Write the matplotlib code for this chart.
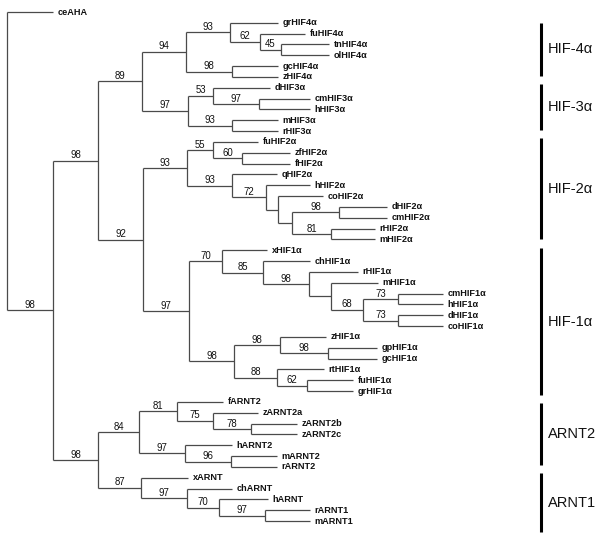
import matplotlib
matplotlib.use("Agg")
import matplotlib.pyplot as plt

# ---------------- data ----------------
# leaves in top-to-bottom order, with their parent clade and tip depth (tree distance units)
leaf_names = ["ceAHA",
              "grHIF4α", "fuHIF4α", "tnHIF4α", "olHIF4α", "gcHIF4α", "zHIF4α",
              "dHIF3α", "cmHIF3α", "hHIF3α", "mHIF3α", "rHIF3α",
              "fuHIF2α", "zfHIF2α", "fHIF2α", "qHIF2α", "hHIF2α", "coHIF2α",
              "dHIF2α", "cmHIF2α", "rHIF2α", "mHIF2α",
              "xHIF1α", "chHIF1α", "rHIF1α", "mHIF1α", "cmHIF1α", "hHIF1α",
              "dHIF1α", "coHIF1α", "zHIF1α", "gpHIF1α", "gcHIF1α", "rtHIF1α",
              "fuHIF1α", "grHIF1α",
              "fARNT2", "zARNT2a", "zARNT2b", "zARNT2c", "hARNT2", "mARNT2", "rARNT2",
              "xARNT", "chARNT", "hARNT", "rARNT1", "mARNT1"]
leaf_parent = ["root",
               "n93a", "n62a", "n45", "n45", "n98a", "n98a",
               "n53", "n97c", "n97c", "n93c", "n93c",
               "n55", "n60", "n60", "n93e", "n72", "nB",
               "n98b", "n98b", "n81b", "n81b",
               "n70", "n85", "n98c", "nD", "n73a", "n73a",
               "n73b", "n73b", "n98e", "n98f", "n98f", "n88",
               "n62b", "n62b",
               "n81c", "n75", "n78", "n78", "n97f", "n96", "n96",
               "n87", "n97g", "n70b", "n97h", "n97h"]
leaf_depth = [53,
              278, 305, 329, 329, 278, 278,
              270, 310, 310, 278, 278,
              258, 290, 290, 277, 310, 323,
              387, 387, 375, 375,
              267, 310, 358, 378, 443, 443,
              443, 443, 326, 377, 377, 324,
              353, 353,
              223, 258, 297, 297, 232, 277, 277,
              188, 232, 268, 310, 310]

# internal clades: id, parent, depth, bootstrap support (None = not shown)
node_ids = ["root", "nA", "nHIF", "n89", "n94", "n93a", "n62a", "n45", "n98a",
            "n97b", "n53", "n97c", "n93c",
            "n92", "n93d", "n55", "n60", "n93e", "n72", "nB", "nC", "n98b", "n81b",
            "n97d", "n70", "n85", "n98c", "nD", "n68", "n73a", "n73b",
            "n98d", "n98e", "n98f", "n88", "n62b",
            "nARNT", "n84", "n81c", "n75", "n78", "n97f", "n96",
            "n87", "n97g", "n70b", "n97h"]
node_parent = [None, "root", "nA", "nHIF", "n89", "n94", "n93a", "n62a", "n94",
               "n89", "n97b", "n53", "n97b",
               "nHIF", "n92", "n93d", "n55", "n93d", "n93e", "n72", "nB", "nC", "nC",
               "n92", "n97d", "n70", "n85", "n98c", "nD", "n68", "n68",
               "n97d", "n98d", "n98e", "n98d", "n88",
               "nA", "nARNT", "n84", "n81c", "n75", "n84", "n97f",
               "nARNT", "n87", "n97g", "n70b"]
node_depth = [7, 53, 98, 142, 186, 230, 260, 281, 232,
              188, 213, 259, 232,
              143, 187, 213, 242, 232, 266, 278, 292, 339, 331,
              189, 222, 263, 309, 331, 363, 398, 398,
              234, 280, 328, 277, 307,
              98, 139, 177, 213, 251, 185, 231,
              141, 187, 219, 265]
node_support = [None, 98, 98, 89, 94, 93, 62, 45, 98,
                97, 53, 97, 93,
                92, 93, 55, 60, 93, 72, None, None, 98, 81,
                97, 70, 85, 98, None, 68, 73, 73,
                98, 98, 98, 88, 62,
                98, 84, 81, 75, 78, 97, 96,
                87, 97, 70, 97]

# clade brackets on the right (span in leaf rows)
clade_names = ["HIF-4α", "HIF-3α", "HIF-2α", "HIF-1α", "ARNT2", "ARNT1"]
clade_start = [1.02, 6.65, 11.63, 21.79, 36.1, 42.57]
clade_end = [5.9, 10.9, 20.96, 35.36, 41.83, 48.0]

# ---------------- layout ----------------
line_col = "#4a4a4a"
fig = plt.figure(figsize=(6.0, 5.33), dpi=100)
ax = fig.add_axes([0, 0, 1, 1])
ax.set_xlim(0, 600)
ax.set_ylim(48.1, -1.108)
ax.axis("off")

depth = dict(zip(node_ids, node_depth))
parent = dict(zip(node_ids, node_parent))
support = dict(zip(node_ids, node_support))

ypos = {}
children = {n: [] for n in node_ids}
for i, (nm, p) in enumerate(zip(leaf_names, leaf_parent)):
    ypos[("leaf", i)] = float(i)
    children[p].append(("leaf", i))
for n, p in zip(node_ids, node_parent):
    if p is not None:
        children[p].append(("node", n))


def get_y(key):
    if key in ypos:
        return ypos[key]
    kind, n = key
    ys = [get_y(c) for c in children[n]]
    y = (min(ys) + max(ys)) / 2.0
    ypos[key] = y
    return y


for n in node_ids:
    get_y(("node", n))

# vertical connectors
for n in node_ids:
    ys = [get_y(c) for c in children[n]]
    ax.plot([depth[n], depth[n]], [min(ys), max(ys)], color=line_col, lw=0.9,
            solid_capstyle="butt")

# horizontal branches for internal nodes + support values
for n in node_ids:
    p = parent[n]
    if p is None:
        continue
    y = get_y(("node", n))
    x0, x1 = depth[p], depth[n]
    ax.plot([x0, x1], [y, y], color=line_col, lw=0.9, solid_capstyle="butt")
    if support[n] is not None:
        ax.annotate(str(support[n]), xy=((x0 + x1) / 2.0, y), xytext=(0, 1.8),
                    textcoords="offset points", ha="center", va="baseline",
                    fontsize=6.9, family="Liberation Sans", color="#111111")

# leaf branches + labels
for i, (nm, p, d) in enumerate(zip(leaf_names, leaf_parent, leaf_depth)):
    y = float(i)
    ax.plot([depth[p], d], [y, y], color=line_col, lw=0.9, solid_capstyle="butt")
    ax.annotate(nm, xy=(d, y), xytext=(3.2, 0), textcoords="offset points",
                ha="left", va="center", fontsize=6.6, fontweight="bold",
                family="Liberation Sans", color="#111111")

# clade brackets
for nm, s, e in zip(clade_names, clade_start, clade_end):
    ax.plot([541, 541], [s, e], color="black", lw=2.2, solid_capstyle="butt")
    ax.text(548, (s + e) / 2.0, nm, ha="left", va="center", fontsize=10.5,
            family="Liberation Sans", color="#111111")

fig.savefig("out.png", dpi=100)
